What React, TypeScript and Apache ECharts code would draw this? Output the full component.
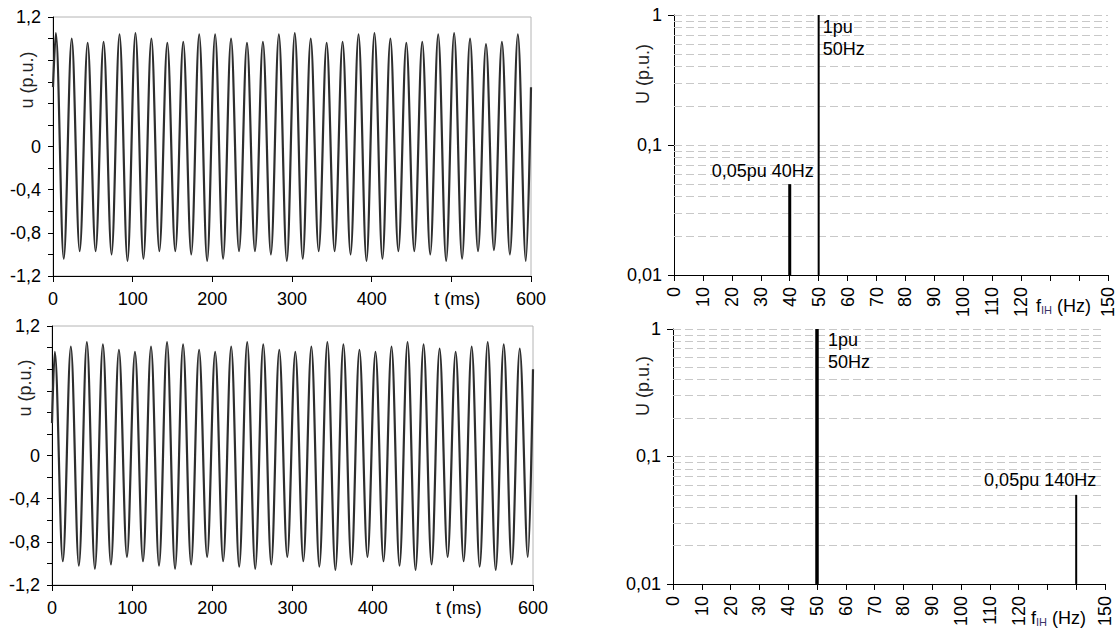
import { useEffect, useRef } from 'react';
import * as echarts from 'echarts';

// ---------- DATA ----------
// time-domain waveforms: [t (ms), u (p.u.)] at start, each peak, each trough, end
const waveTop: [number, number][] = [
  [0, 0.55],
  [3.5, 1.05], [13.5, -1.04], [23.5, 1.0], [33.5, -0.97], [43.5, 0.96], [53.5, -0.97], [63.5, 0.97], [73.5, -1.0], [83.5, 1.04], [93.5, -1.06],
  [103.5, 1.05], [113.5, -1.04], [123.5, 1.0], [133.5, -0.97], [143.5, 0.96], [153.5, -0.97], [163.5, 0.97], [173.5, -1.0], [183.5, 1.04], [193.5, -1.06],
  [203.5, 1.04], [213.5, -1.04], [223.5, 1.0], [233.5, -0.97], [243.5, 0.96], [253.5, -0.97], [263.5, 0.97], [273.5, -1.0], [283.5, 1.04], [293.5, -1.06],
  [303.5, 1.05], [313.5, -1.04], [323.5, 1.0], [333.5, -0.97], [343.5, 0.96], [353.5, -0.97], [363.5, 0.97], [373.5, -1.0], [383.5, 1.04], [393.5, -1.06],
  [403.5, 1.05], [413.5, -1.04], [423.5, 1.0], [433.5, -0.97], [443.5, 0.96], [453.5, -0.97], [463.5, 0.97], [473.5, -1.0], [483.5, 1.04], [493.5, -1.06],
  [503.5, 1.05], [513.5, -1.04], [523.5, 1.0], [533.5, -0.97], [543.5, 0.95], [553.5, -0.96], [563.5, 0.97], [573.5, -1.0], [583.5, 1.04], [593.5, -1.06],
  [600, 0.55],
];

const waveBottom: [number, number][] = [
  [0, 0.3],
  [3.5, 0.96], [13.5, -0.98], [23.5, 1.01], [33.5, -1.02], [43.5, 1.05], [53.5, -1.05], [63.5, 1.03], [73.5, -1.01], [83.5, 0.98], [93.5, -0.94],
  [103.5, 0.96], [113.5, -0.98], [123.5, 1.01], [133.5, -1.02], [143.5, 1.05], [153.5, -1.05], [163.5, 1.03], [173.5, -1.01], [183.5, 0.98], [193.5, -0.94],
  [203.5, 0.96], [213.5, -0.98], [223.5, 1.01], [233.5, -1.03], [243.5, 1.05], [253.5, -1.05], [263.5, 1.03], [273.5, -1.01], [283.5, 0.98], [293.5, -0.94],
  [303.5, 0.96], [313.5, -0.98], [323.5, 1.01], [333.5, -1.03], [343.5, 1.05], [353.5, -1.06], [363.5, 1.03], [373.5, -1.01], [383.5, 0.98], [393.5, -0.94],
  [403.5, 0.96], [413.5, -0.98], [423.5, 1.01], [433.5, -1.02], [443.5, 1.05], [453.5, -1.06], [463.5, 1.03], [473.5, -1.01], [483.5, 0.99], [493.5, -0.94],
  [503.5, 0.96], [513.5, -0.98], [523.5, 1.01], [533.5, -1.03], [543.5, 1.05], [553.5, -1.06], [563.5, 1.03], [573.5, -1.01], [583.5, 0.99], [593.5, -0.94],
  [600, 0.8],
];

// spectra
const specTopFreq = [40, 50];
const specTopAmp = [0.05, 1];
const specTopLabels = ['0,05pu 40Hz', '1pu\n50Hz'];

const specBottomFreq = [50, 140];
const specBottomAmp = [1, 0.05];
const specBottomLabels = ['1pu\n50Hz', '0,05pu 140Hz'];

// dashed reference lines on the log axes
const logGridValues = [0.02, 0.03, 0.04, 0.05, 0.06, 0.07, 0.08, 0.09, 0.1, 0.2, 0.3, 0.4, 0.5, 0.6, 0.7, 0.8, 0.9, 1];

// tick label settings
const waveYLabelsShown = [1.2, 0, -0.4, -0.8, -1.2];
const timeNameTick = 500;
const freqHiddenTicks = [130, 140];

// ---------- STYLE ----------
const FONT = 'Liberation Sans, Arial, sans-serif';
const FS = 18;

type LabelStyle = { align: 'left' | 'right'; dx: number; dy: number; va: 'top' | 'middle'; w: number };
const specTopStyle: LabelStyle[] = [
  { align: 'right', dx: 24, dy: -13, va: 'middle', w: 3 },
  { align: 'left', dx: 4, dy: 1, va: 'top', w: 2 },
];
const specBottomStyle: LabelStyle[] = [
  { align: 'left', dx: 11, dy: 0, va: 'top', w: 3.5 },
  { align: 'right', dx: 20, dy: -15, va: 'middle', w: 2 },
];

function fmtComma(v: number) {
  return String(v).replace('.', ',');
}

function waveXAxis(gridIndex: number) {
  return {
    gridIndex,
    type: 'value',
    min: 0,
    max: 600,
    interval: 100,
    axisLine: { onZero: false, lineStyle: { color: '#000', width: 1 } },
    axisTick: { show: true, length: 6, lineStyle: { color: '#000' } },
    axisLabel: {
      color: '#000',
      fontSize: FS,
      fontFamily: FONT,
      margin: 14,
      formatter: (v: number) => (Math.round(v) === timeNameTick ? '{n|t (ms)}' : String(Math.round(v))),
      rich: { n: { color: '#000', fontSize: FS, fontFamily: FONT, padding: [0, 0, 0, 12] } },
    },
    splitLine: { show: false },
  };
}

function waveYAxis(gridIndex: number) {
  return {
    gridIndex,
    type: 'value',
    min: -1.2,
    max: 1.2,
    interval: 0.2,
    axisLine: { show: true, onZero: false, lineStyle: { color: '#000', width: 1 } },
    axisTick: { show: true, length: 5, lineStyle: { color: '#000' } },
    axisLabel: {
      color: '#000',
      fontSize: FS,
      fontFamily: FONT,
      margin: 12,
      formatter: (v: number) => {
        const r = Math.round(v * 10) / 10;
        return waveYLabelsShown.some((s) => Math.abs(s - r) < 1e-9) ? fmtComma(r) : '';
      },
    },
    splitLine: { show: false },
  };
}

function specXAxis(gridIndex: number) {
  return {
    gridIndex,
    type: 'value',
    min: 0,
    max: 150,
    interval: 10,
    axisLine: { onZero: false, lineStyle: { color: '#000', width: 1 } },
    axisTick: { show: true, length: 6, lineStyle: { color: '#000' } },
    axisLabel: {
      color: '#000',
      fontSize: FS,
      fontFamily: FONT,
      rotate: 90,
      margin: 12,
      formatter: (v: number) => (freqHiddenTicks.includes(Math.round(v)) ? '' : String(Math.round(v))),
    },
    splitLine: { show: false },
  };
}

function specYAxis(gridIndex: number) {
  return {
    gridIndex,
    type: 'log',
    logBase: 10,
    min: 0.01,
    max: 1,
    axisLine: { show: true, onZero: false, lineStyle: { color: '#000', width: 1 } },
    axisTick: { show: true, length: 6, lineStyle: { color: '#000' } },
    axisLabel: {
      color: '#000',
      fontSize: FS,
      fontFamily: FONT,
      margin: 12,
      formatter: (v: number) => fmtComma(+Number(v).toPrecision(2)),
    },
    splitLine: { show: false },
    minorTick: { show: false },
  };
}

function specSeries(idx: number, freq: number[], amp: number[], labels: string[], styles: LabelStyle[]) {
  return {
    type: 'custom',
    xAxisIndex: idx,
    yAxisIndex: idx,
    data: freq.map((f, i) => [f, amp[i], i]),
    renderItem: (_params: any, api: any) => {
      const x = api.value(0);
      const v = api.value(1);
      const i = api.value(2);
      const top = api.coord([x, v]);
      const base = api.coord([0, 0.01]);
      const st = styles[i];
      return {
        type: 'group',
        children: [
          {
            type: 'line',
            shape: { x1: top[0], y1: base[1], x2: top[0], y2: top[1] },
            style: { stroke: '#000', lineWidth: st.w },
          },
          {
            type: 'text',
            x: top[0] + st.dx,
            y: top[1] + st.dy,
            style: {
              text: labels[i],
              fill: '#000',
              fontSize: FS,
              fontFamily: FONT,
              align: st.align,
              verticalAlign: st.va,
              lineHeight: 22,
            },
          },
        ],
      };
    },
    markLine: {
      silent: true,
      symbol: ['none', 'none'],
      label: { show: false },
      lineStyle: { type: [8, 4], color: '#c8c8c8', width: 1 },
      data: logGridValues.map((v) => ({ yAxis: v })),
      z: 1,
    },
    z: 3,
  };
}

function waveSeries(idx: number, data: [number, number][]) {
  return {
    type: 'line',
    xAxisIndex: idx,
    yAxisIndex: idx,
    data,
    showSymbol: false,
    smooth: 0.35,
    lineStyle: { color: '#2e2e2e', width: 2.2 },
    z: 2,
  };
}

function axisName(x: number, y: number, text: string) {
  return {
    type: 'text',
    x,
    y,
    rotation: Math.PI / 2,
    style: { text, fill: '#222', fontSize: FS, fontFamily: FONT, align: 'center', verticalAlign: 'middle' },
  };
}

function freqName(x: number, y: number) {
  return {
    type: 'text',
    x,
    y,
    style: {
      text: '{a|f}{b|IH}{a| (Hz)}',
      align: 'left',
      verticalAlign: 'middle',
      rich: {
        a: { fill: '#000', fontSize: FS, fontFamily: FONT },
        b: { fill: '#3b3468', fontSize: 11, fontFamily: FONT, padding: [8, 0, 0, 0] },
      },
    },
  };
}

export default function App() {
  const ref = useRef<HTMLDivElement>(null);
  useEffect(() => {
    if (!ref.current) return;
    const chart = echarts.init(ref.current, undefined, { renderer: 'svg' });
    const gridBorder = { show: true, borderColor: '#b4b4b4', borderWidth: 1, backgroundColor: 'transparent' };
    chart.setOption({
      animation: false,
      backgroundColor: '#fff',
      grid: [
        { left: 53, top: 17, width: 478, height: 259, ...gridBorder },
        { left: 674, top: 15, width: 434, height: 260 },
        { left: 52, top: 326, width: 481, height: 259, ...gridBorder },
        { left: 673, top: 329, width: 432, height: 258 },
      ],
      xAxis: [waveXAxis(0), specXAxis(1), waveXAxis(2), specXAxis(3)],
      yAxis: [waveYAxis(0), specYAxis(1), waveYAxis(2), specYAxis(3)],
      series: [
        waveSeries(0, waveTop),
        specSeries(1, specTopFreq, specTopAmp, specTopLabels, specTopStyle),
        waveSeries(2, waveBottom),
        specSeries(3, specBottomFreq, specBottomAmp, specBottomLabels, specBottomStyle),
      ],
      graphic: [
        axisName(27, 80, 'u (p.u.)'),
        axisName(25, 388, 'u (p.u.)'),
        axisName(643, 74, 'U (p.u.)'),
        axisName(643, 386, 'U (p.u.)'),
        freqName(1036, 306),
        freqName(1031, 618),
      ],
    });
    return () => chart.dispose();
  }, []);
  return <div ref={ref} style={{ position: 'fixed', left: 0, top: 0, width: 1120, height: 629 }} />;
}
